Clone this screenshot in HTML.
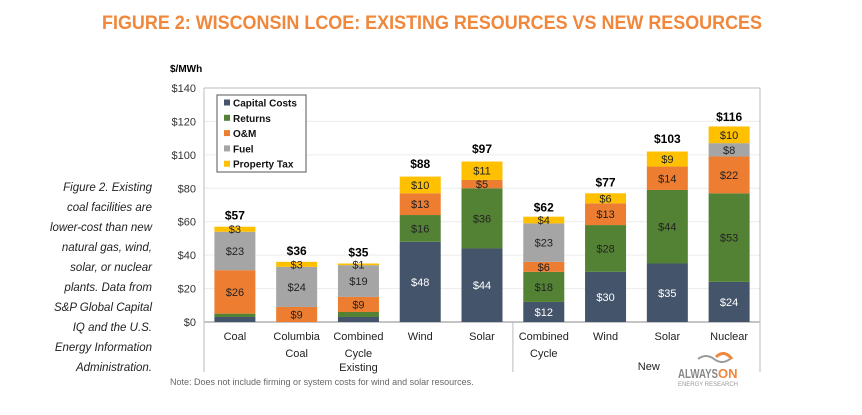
<!DOCTYPE html>
<html><head><meta charset="utf-8">
<style>
body{margin:0;background:#fff;}
svg{display:block;font-family:"Liberation Sans",Arial,sans-serif;}
</style></head>
<body>
<svg id="chart" width="862" height="415" viewBox="0 0 862 415">
<text x="432" y="29" text-anchor="middle" font-size="19" font-weight="bold" fill="#F0873A" textLength="660" lengthAdjust="spacingAndGlyphs">FIGURE 2: WISCONSIN LCOE: EXISTING RESOURCES VS NEW RESOURCES</text>
<text x="170" y="72" font-size="10" font-weight="bold" fill="#000">$/MWh</text>
<g font-size="11.5" font-style="italic" fill="#222" text-anchor="end">
<text x="152" y="191">Figure 2. Existing</text>
<text x="152" y="211">coal facilities are</text>
<text x="152" y="231">lower-cost than new</text>
<text x="152" y="251">natural gas, wind,</text>
<text x="152" y="271">solar, or nuclear</text>
<text x="152" y="291">plants. Data from</text>
<text x="152" y="311">S&amp;P Global Capital</text>
<text x="152" y="331">IQ and the U.S.</text>
<text x="152" y="351">Energy Information</text>
<text x="152" y="371">Administration.</text>
</g>
<g id="grid"></g>
<g id="bars"></g>
<g id="axis"></g>
<g>
<rect x="217" y="95" width="89" height="77" fill="#fff" stroke="#555" stroke-width="1"/>
<g id="legend" font-size="10" font-weight="bold"></g>
</g>
<text x="170" y="385" font-size="9" fill="#666">Note: Does not include firming or system costs for wind and solar resources.</text>
<g>
<path d="M698 359 q8 -6 16 0 q8 6 16 0" stroke="#999" stroke-width="2" fill="none"/>
<path d="M716 357 q8 -8 16 2" stroke="#F0873A" stroke-width="3" fill="none"/>
<text x="678" y="378" font-size="13" font-weight="bold" fill="#888" textLength="40" lengthAdjust="spacingAndGlyphs">ALWAYS</text>
<text x="718" y="378" font-size="13" font-weight="bold" fill="#F0873A">ON</text>
<text x="678" y="386" font-size="6" fill="#999" textLength="60" lengthAdjust="spacingAndGlyphs">ENERGY RESEARCH</text>
</g>
</svg>
<script>
const categories=["Coal","Columbia|Coal","Combined|Cycle","Wind","Solar","Combined|Cycle","Wind","Solar","Nuclear"];
const capital=[3,0,3,48,44,12,30,35,24];
const returns=[2,0,3,16,36,18,28,44,53];
const om=[26,9,9,13,5,6,13,14,22];
const fuel=[23,24,19,0,0,23,0,0,8];
const tax=[3,3,1,10,11,4,6,9,10];
const totals=[57,36,35,88,97,62,77,103,116];
const capLabels=["","","","$48","$44","$12","$30","$35","$24"];
const retLabels=["","","","$16","$36","$18","$28","$44","$53"];
const omLabels=["$26","$9","$9","$13","$5","$6","$13","$14","$22"];
const fuelLabels=["$23","$24","$19","","","$23","","","$8"];
const taxLabels=["$3","$3","$1","$10","$11","$4","$6","$9","$10"];
const yTicks=[0,20,40,60,80,100,120,140];
const seriesNames=["Capital Costs","Returns","O&M","Fuel","Property Tax"];
const colors=["#44546A","#548235","#ED7D31","#A5A5A5","#FFC000"];
const textColors=["#fff","#222","#222","#222","#222"];

const X0=204,X1=760,Y0=322,YTOP=88,YMAX=140;
const step=(X1-X0)/categories.length, bw=41;
const y=v=>Y0-(v/YMAX)*(Y0-YTOP);
const xc=i=>X0+step*(i+0.5);
const NS="http://www.w3.org/2000/svg";
function mk(tag,attrs,parent){const e=document.createElementNS(NS,tag);for(const k in attrs)e.setAttribute(k,attrs[k]);parent.appendChild(e);return e;}
const grid=document.getElementById('grid'),bars=document.getElementById('bars'),axis=document.getElementById('axis'),legend=document.getElementById('legend');

yTicks.forEach(t=>{
  const l=mk('line',{x1:X0,x2:X1,y1:y(t),y2:y(t),stroke:t===0?'#888':'#ececec','stroke-width':1},grid);
  
  
  const tx=mk('text',{x:X0-8,y:y(t)+4,'text-anchor':'end','font-size':11,fill:'#333'},axis);
  tx.textContent='$'+t;
  
  
});
[[X0,YTOP,X0,Y0],[X0,YTOP,X1,YTOP],[X1,YTOP,X1,Y0]].forEach(c=>mk('line',{x1:c[0],y1:c[1],x2:c[2],y2:c[3],stroke:'#bbb','stroke-width':1},grid));
[X0,X0+step*5,X1].forEach(xx=>mk('line',{x1:xx,y1:Y0,x2:xx,y2:372,stroke:'#bbb','stroke-width':1},axis));

const series=[capital,returns,om,fuel,tax];
const labels=[capLabels,retLabels,omLabels,fuelLabels,taxLabels];
categories.forEach((c,i)=>{
  let base=0;
  series.forEach((s,k)=>{
    const v=s[i]; if(v<=0)return;
    const r=mk('rect',{x:xc(i)-bw/2,y:y(base+v),width:bw,height:y(base)-y(base+v),fill:colors[k]},bars);
    
    
    const lab=labels[k][i];
    if(lab){
      const t=mk('text',{x:xc(i),y:(y(base)+y(base+v))/2+4,'text-anchor':'middle','font-size':11,fill:textColors[k]},bars);
      t.textContent=lab;
      
      
    }
    base+=v;
  });
  const tt=mk('text',{x:xc(i),y:y(totals[i])-7,'text-anchor':'middle','font-size':12,'font-weight':'bold',fill:'#000'},bars);
  tt.textContent='$'+totals[i];
  
  
  c.split('|').forEach((ln,j)=>{
    const t=mk('text',{x:xc(i),y:340+j*17,'text-anchor':'middle','font-size':11,fill:'#222'},axis);
    t.textContent=ln;
    
    
  });
});
const g1=mk('text',{x:(X0+X0+step*5)/2,y:371,'text-anchor':'middle','font-size':11,fill:'#222'},axis);
g1.textContent='Existing';


const g2=mk('text',{x:X0+step*7.2,y:370,'text-anchor':'middle','font-size':11,fill:'#222'},axis);
g2.textContent='New';



seriesNames.forEach((n,k)=>{
  const yy=103+k*15.3;
  mk('rect',{x:224,y:yy-3.5,width:6,height:6,fill:colors[k]},legend);
  const t=mk('text',{x:233,y:yy+3.5,fill:'#111'},legend);
  t.textContent=n;
  
  
});
</script>
</body></html>
